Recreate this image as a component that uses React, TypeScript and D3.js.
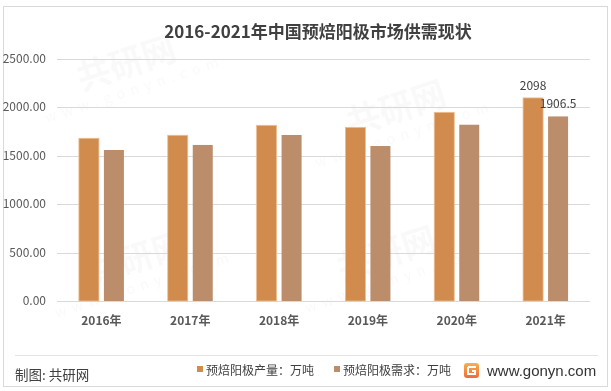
import React from "react";
import * as d3 from "d3";

const categories = ["2016年", "2017年", "2018年", "2019年", "2020年", "2021年"];
const seriesNames = ["预焙阳极产量：万吨", "预焙阳极需求：万吨"];
const production = [1681, 1712, 1815, 1794, 1949, 2098];
const demand = [1560, 1612, 1715, 1601, 1821, 1906.5];
const yTicks = [0, 500, 1000, 1500, 2000, 2500];
const labeledIndex = [5];
const colors = ["#D18B4D", "#BB8D6B"];

const W = 611;
const H = 391;

export default function App() {
  const x0 = d3.scaleBand<string>().domain(categories).range([57, 590]).paddingInner(0.4934).paddingOuter(0.2467);
  const x1 = d3.scaleBand<string>().domain(["p", "d"]).range([0, 45]).paddingInner(0.2).paddingOuter(0);
  const y = d3.scaleLinear().domain([0, 2500]).range([301, 59]);
  const fmt = d3.format(".2f");
  const series = [production, demand];
  const keys = ["p", "d"];
  const font = "'Noto Sans CJK SC', 'Noto Sans', sans-serif";
  const center = (i: number) => (x0(categories[i]) as number) + x0.bandwidth() / 2;

  return (
    <svg width={W} height={H} style={{ position: "absolute", left: 0, top: 0, background: "#fff" }} fontFamily={font}>
      <rect x={0} y={0} width={W} height={H} fill="#fff" />
      <rect x={3.5} y={6.5} width={604} height={380} fill="none" stroke="#D9D9D9" strokeWidth={1} />
      {/* faint watermarks */}
      <g fill="#000" opacity={0.025} fontWeight="bold">
        {[[130, 75], [400, 120], [140, 270], [390, 265]].map(([wx, wy], i) => (
          <g key={i} transform={`translate(${wx},${wy}) rotate(-18)`}>
            <text fontSize={34} textAnchor="middle">共研网</text>
            <text y={20} fontSize={14} textAnchor="middle" letterSpacing={6} fontWeight="normal">www.gonyn.com</text>
          </g>
        ))}
      </g>
      <text x={318} y={38} textAnchor="middle" fontSize={17} fontWeight="bold" fill="#404040">
        2016-2021年中国预焙阳极市场供需现状
      </text>
      {yTicks.map((t) => (
        <g key={t}>
          <line x1={57} x2={590} y1={Math.round(y(t)) + 0.5} y2={Math.round(y(t)) + 0.5} stroke="#D9D9D9" strokeWidth={1} />
          <text x={46} y={y(t) + 4} textAnchor="end" fontSize={12} fill="#595959">{fmt(t)}</text>
        </g>
      ))}
      {series.map((vals, si) =>
        vals.map((v, i) => {
          const bx = (x0(categories[i]) as number) + (x1(keys[si]) as number);
          return (
            <rect
              key={`${si}-${i}`}
              x={bx}
              y={y(v)}
              width={x1.bandwidth()}
              height={y(0) - y(v)}
              fill={colors[si]}
              stroke={si === 0 ? "#EDBE92" : "none"}
              strokeWidth={0.8}
            />
          );
        })
      )}
      {labeledIndex.map((i) =>
        series.map((vals, si) => {
          const bx = (x0(categories[i]) as number) + (x1(keys[si]) as number) + x1.bandwidth() / 2;
          return (
            <text key={`l${si}-${i}`} x={bx} y={y(vals[i]) - 8} textAnchor="middle" fontSize={12} fill="#404040">
              {vals[i]}
            </text>
          );
        })
      )}
      {categories.map((c, i) => (
        <text key={c} x={center(i)} y={325} textAnchor="middle" fontSize={12} fontWeight="bold" fill="#595959">
          {c}
        </text>
      ))}
      <line x1={15} x2={598} y1={355.5} y2={355.5} stroke="#E3E3E3" strokeWidth={1} />
      <text x={15} y={380} fontSize={13.5} fill="#404040">制图: 共研网</text>
      <rect x={197} y={366} width={6} height={6} fill={colors[0]} />
      <text x={206} y={375} fontSize={12} fill="#404040">{seriesNames[0]}</text>
      <rect x={334} y={366} width={6} height={6} fill={colors[1]} />
      <text x={343} y={375} fontSize={12} fill="#404040">{seriesNames[1]}</text>
      <defs>
        <linearGradient id="lg" x1="0" y1="0" x2="0" y2="1">
          <stop offset="0" stopColor="#F8B04E" />
          <stop offset="1" stopColor="#EE6B3B" />
        </linearGradient>
      </defs>
      <g transform="translate(464,363)">
        <rect x={0} y={0} width={15} height={15} rx={3} fill="url(#lg)" />
        <path d="M4 4 H12 M4 4 V11 H11 V8 H8" stroke="#fff" strokeWidth={2} fill="none" />
      </g>
      <text x={487} y={376} fontSize={15} fill="#333" fontFamily="'Liberation Sans', Arial, sans-serif">www.gonyn.com</text>
    </svg>
  );
}
